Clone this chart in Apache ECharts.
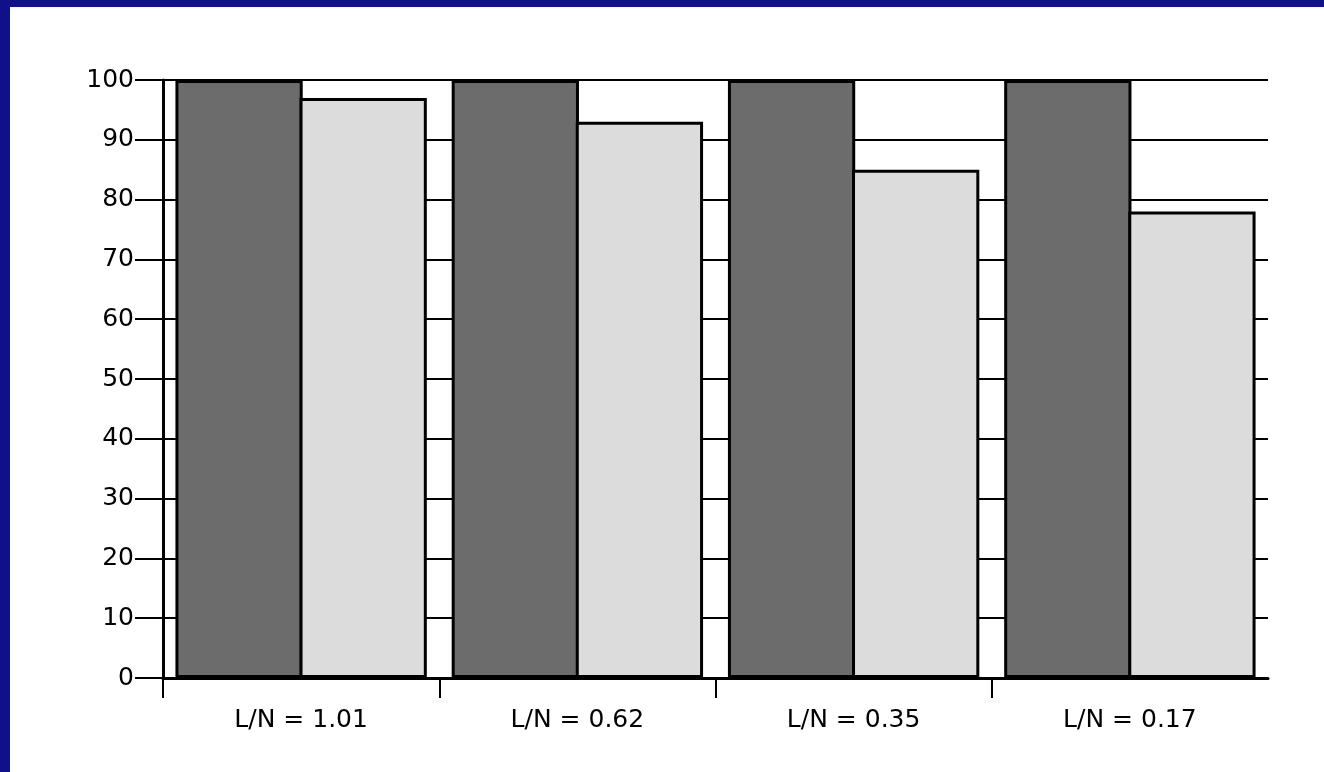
<!DOCTYPE html>
<html>
<head>
<meta charset="utf-8">
<script src="https://cdn.jsdelivr.net/npm/echarts@6/dist/echarts.min.js"></script>
<style>
html,body{margin:0;padding:0;width:1324px;height:772px;overflow:hidden;background:#10108a;}
#panel{position:absolute;left:10px;top:7px;right:0;bottom:0;background:#ffffff;}
#chart{position:absolute;left:0;top:0;width:1324px;height:772px;}
</style>
</head>
<body>
<div id="panel"></div>
<div id="chart"></div>
<script>
const categories = ['L/N = 1.01', 'L/N = 0.62', 'L/N = 0.35', 'L/N = 0.17'];
const darkValues = [100, 100, 100, 100];
const lightValues = [97, 93, 85, 78];
const yTicks = [0, 10, 20, 30, 40, 50, 60, 70, 80, 90, 100];
// category boundaries (one more than categories) used only for the x-axis tick marks
const boundaries = categories.concat(['end']);

const chart = echarts.init(document.getElementById('chart'));
const font = 'DejaVu Sans';
chart.setOption({
  backgroundColor: 'transparent',
  animation: false,
  grid: {left: 163, right: 56, top: 80, bottom: 94, containLabel: false},
  xAxis: [{
    type: 'category',
    data: categories,
    boundaryGap: true,
    axisLine: {show: true, lineStyle: {color: '#000', width: 3}},
    axisTick: {show: false},
    axisLabel: {color: '#000', fontFamily: font, fontSize: 25, margin: 30}
  }, {
    type: 'category',
    position: 'bottom',
    data: boundaries,
    boundaryGap: false,
    axisLine: {show: false},
    axisTick: {show: true, length: 20, interval: function (i) { return i < boundaries.length - 1; }, lineStyle: {color: '#000', width: 2}},
    axisLabel: {show: false}
  }],
  yAxis: {
    type: 'value',
    min: yTicks[0],
    max: yTicks[yTicks.length - 1],
    interval: 10,
    axisLine: {show: true, lineStyle: {color: '#000', width: 3}},
    axisTick: {show: true, length: 28, lineStyle: {color: '#000', width: 2}},
    axisLabel: {color: '#000', fontFamily: font, fontSize: 25, margin: 29},
    splitLine: {show: true, lineStyle: {color: '#000', width: 2}}
  },
  series: [
    {
      type: 'bar',
      data: darkValues,
      barGap: '-2.5%',
      barCategoryGap: '9%',
      itemStyle: {color: '#6c6c6c', borderColor: '#000', borderWidth: 3}
    },
    {
      type: 'bar',
      data: lightValues,
      itemStyle: {color: '#dcdcdc', borderColor: '#000', borderWidth: 3}
    }
  ]
});
</script>
</body>
</html>
